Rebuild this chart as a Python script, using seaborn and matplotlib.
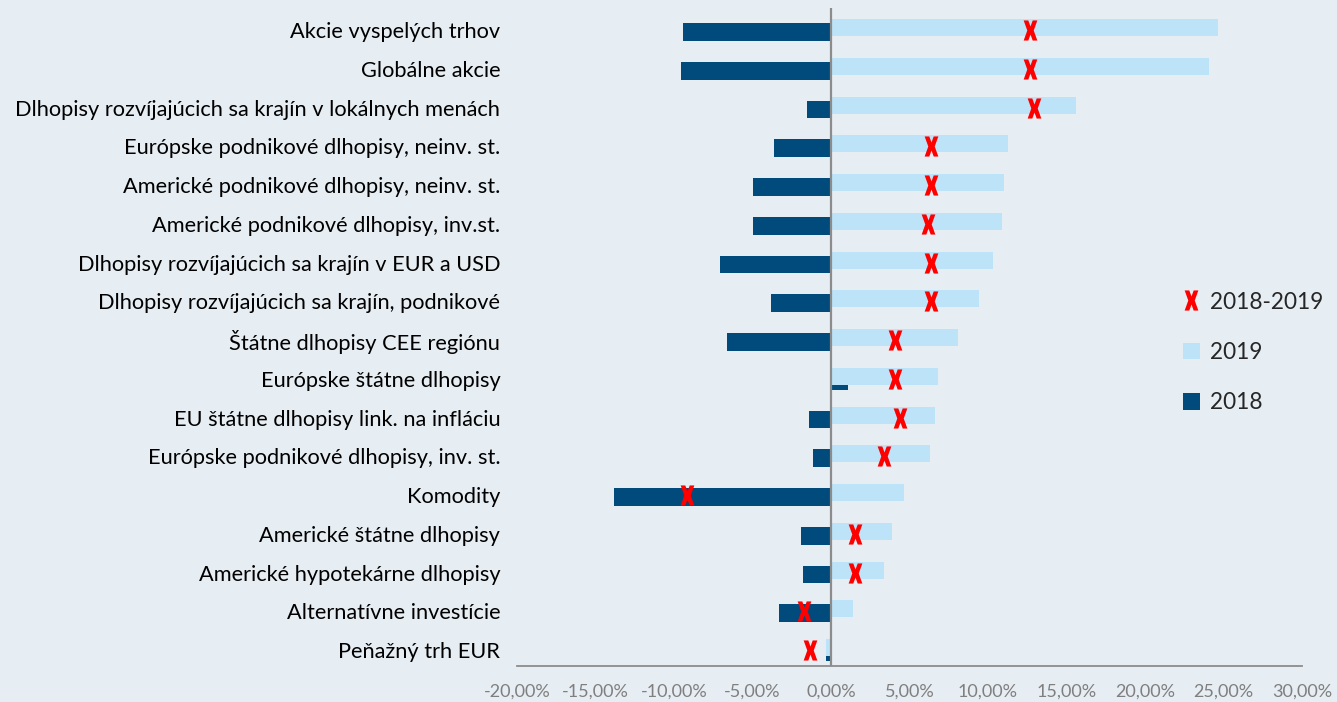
import numpy as np
import pandas as pd
import matplotlib
matplotlib.use("Agg")
import matplotlib.pyplot as plt
from matplotlib.path import Path
from matplotlib.lines import Line2D
from matplotlib.patches import Patch
import seaborn as sns

# kategorie a hodnoty v %
kategorie = [
    "Akcie vyspelých trhov",
    "Globálne akcie",
    "Dlhopisy rozvíjajúcich sa krajín v lokálnych menách",
    "Európske podnikové dlhopisy, neinv. st.",
    "Americké podnikové dlhopisy, neinv. st.",
    "Americké podnikové dlhopisy, inv.st.",
    "Dlhopisy rozvíjajúcich sa krajín v EUR a USD",
    "Dlhopisy rozvíjajúcich sa krajín, podnikové",
    "Štátne dlhopisy CEE regiónu",
    "Európske štátne dlhopisy",
    "EU štátne dlhopisy link. na infláciu",
    "Európske podnikové dlhopisy, inv. st.",
    "Komodity",
    "Americké štátne dlhopisy",
    "Americké hypotekárne dlhopisy",
    "Alternatívne investície",
    "Peňažný trh EUR",
]
r2018 = [-9.4, -9.55, -1.5, -3.6, -5.0, -5.0, -7.1, -3.8, -6.6, 1.1, -1.4, -1.15, -13.8, -1.9, -1.8, -3.3, -0.35]
r2019 = [24.65, 24.1, 15.6, 11.3, 11.0, 10.9, 10.3, 9.4, 8.1, 6.8, 6.6, 6.3, 4.65, 3.9, 3.4, 1.4, -0.3]
r2018_2019 = [12.7, 12.7, 12.9, 6.4, 6.4, 6.2, 6.4, 6.4, 4.1, 4.1, 4.4, 3.4, -9.2, 1.5, 1.5, -1.7, -1.35]
xticks = [-20, -15, -10, -5, 0, 5, 10, 15, 20, 25, 30]

df = pd.DataFrame({"kat": kategorie, "r2018": r2018, "r2019": r2019, "zmena": r2018_2019})

tmava = "#004a7c"
svetla = "#bde3f8"
cervena = "#ff0000"
pozadie = "#e6edf3"

sns.set_style("white")
plt.rcParams["font.family"] = ["Lato", "DejaVu Sans"]

fig = plt.figure(figsize=(13.37, 7.02), dpi=100, facecolor=pozadie)
ax = fig.add_axes([0.3867, 0.0513, 0.5871, 0.9373])
ax.set_facecolor(pozadie)

# 2018 (tmave) pod 2019 (svetle), trochu posunute
sns.barplot(data=df, x="r2018", y="kat", orient="h", color=tmava, width=0.46,
            saturation=1, linewidth=0, ax=ax)
n = len(kategorie)
for p in ax.patches[:n]:
    p.set_y(p.get_y() + 0.05)
sns.barplot(data=df, x="r2019", y="kat", orient="h", color=svetla, width=0.44,
            saturation=1, linewidth=0, ax=ax)
for p in ax.patches[n:]:
    p.set_y(p.get_y() - 0.065)

# hrube X
w, h, a, c, b = 0.68, 1.0, 0.46, 0.4, 0.32
xverts = [(-w, h), (-w + a, h), (0, c), (w - a, h), (w, h), (b, 0), (w, -h),
          (w - a, -h), (0, -c), (-w + a, -h), (-w, -h), (-b, 0), (-w, h)]
xmarker = Path(xverts, closed=True)
sns.scatterplot(data=df, x="zmena", y="kat", marker=xmarker, color=cervena,
                s=210, linewidth=0, zorder=5, ax=ax)

ax.set_xlim(-20, 30)
ax.set_ylim(n - 1 + 0.41, -0.57)
ax.axvline(0, color="#8c8c8c", lw=1.6, zorder=4)

ax.set_xticks(xticks)
ax.set_xticklabels([f"{v:.2f}%".replace(".", ",") for v in xticks],
                   color="#7f7f7f", fontsize=13)
ax.tick_params(axis="x", length=0, pad=13)
ax.tick_params(axis="y", length=0, pad=12, labelsize=15.7, labelcolor="black")
ax.set_xlabel("")
ax.set_ylabel("")
for s in ["top", "right", "left"]:
    ax.spines[s].set_visible(False)
ax.spines["bottom"].set_color("#8c8c8c")
ax.spines["bottom"].set_linewidth(1.3)

handles = [
    Line2D([], [], marker=xmarker, color=cervena, linestyle="none", markersize=14.5,
           markeredgewidth=0),
    Patch(facecolor=svetla, edgecolor="none"),
    Patch(facecolor=tmava, edgecolor="none"),
]
leg = ax.legend(handles, ["2018-2019", "2019", "2018"], loc="upper left",
                bbox_to_anchor=(0.822, 0.6), frameon=False, fontsize=16.3,
                labelspacing=1.3, handlelength=0.75, handleheight=0.75,
                handletextpad=0.45)

fig.savefig("out.png", dpi=100, facecolor=pozadie)
